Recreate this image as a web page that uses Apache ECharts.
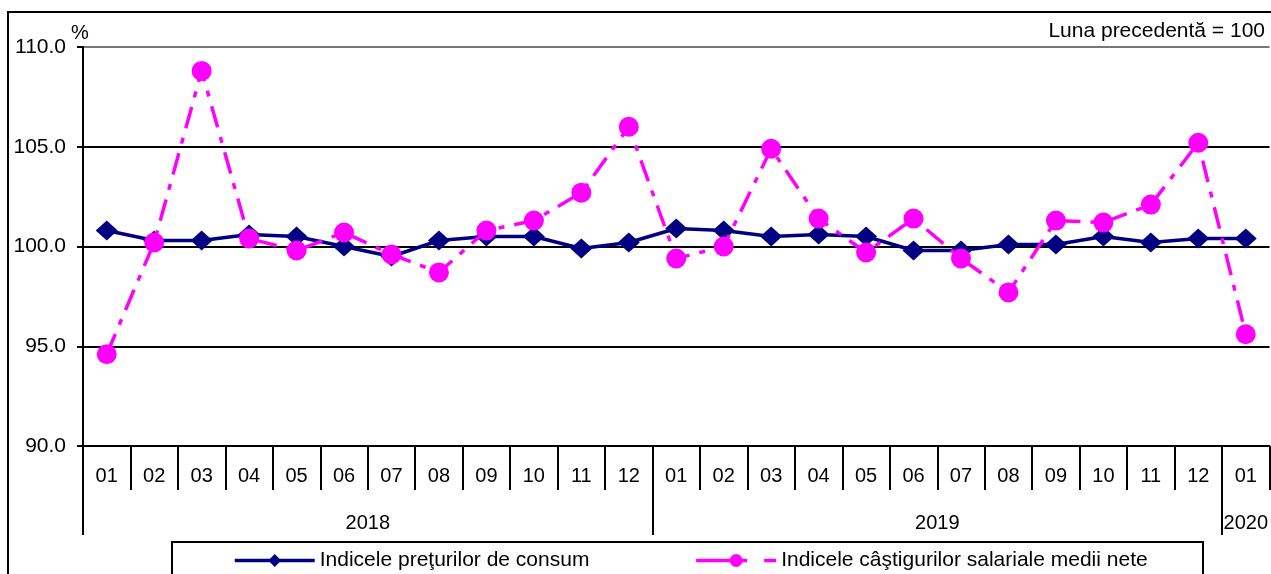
<!DOCTYPE html>
<html>
<head>
<meta charset="utf-8">
<script src="https://cdn.jsdelivr.net/npm/echarts@6/dist/echarts.min.js"></script>
<style>
  html, body { margin: 0; padding: 0; background: #fff; }
  #main { width: 1271px; height: 574px; }
</style>
</head>
<body>
<div id="main"></div>
<script>
// month labels on the first axis row
const months = ['01','02','03','04','05','06','07','08','09','10','11','12',
                '01','02','03','04','05','06','07','08','09','10','11','12','01'];
// year row: label and its position (in category units from the left edge)
const years = ['2018', '2019', '2020'];
const yearPos = [6, 18, 24.5];
const yearBreaks = [0, 12, 24];

// Indicele preţurilor de consum
const cpi = [100.8, 100.3, 100.3, 100.6, 100.5, 100.0, 99.5, 100.3, 100.5, 100.5, 99.9, 100.2,
             100.9, 100.8, 100.5, 100.6, 100.5, 99.8, 99.8, 100.1, 100.1, 100.5, 100.2, 100.4,
             100.4];
// Indicele câştigurilor salariale medii nete
const wages = [94.6, 100.2, 108.8, 100.4, 99.8, 100.7, 99.6, 98.7, 100.8, 101.3, 102.7, 106.0,
               99.4, 100.0, 104.9, 101.4, 99.7, 101.4, 99.4, 97.7, 101.3, 101.2, 102.1, 105.2,
               95.6];

const font = '"Liberation Sans", Arial, sans-serif';
const monthTicks = months.map((m, i) => i).concat([25]);
const chart = echarts.init(document.getElementById('main'));

chart.setOption({
  animation: false,
  textStyle: { fontFamily: font, color: '#000' },
  grid: { left: 83, top: 47, right: -2, bottom: 128 },
  xAxis: [
    {
      type: 'category',
      data: months,
      boundaryGap: true,
      axisLine: { lineStyle: { color: '#000', width: 2 } },
      axisTick: { show: false },
      axisLabel: { interval: 0, fontSize: 20, color: '#000', margin: 20, fontFamily: font },
      splitLine: { show: false }
    },
    {
      // helper axis: year dividers and year labels
      type: 'value',
      position: 'bottom',
      min: 0,
      max: 25,
      axisLine: { show: false },
      axisTick: { show: true, customValues: yearBreaks, length: 89, lineStyle: { color: '#000', width: 2 } },
      axisLabel: {
        customValues: yearPos,
        fontSize: 20, color: '#000', margin: 67, fontFamily: font,
        formatter: v => years[yearPos.indexOf(v)] || ''
      },
      splitLine: { show: false }
    },
    {
      // helper axis: month dividers
      type: 'value',
      position: 'bottom',
      min: 0,
      max: 25,
      axisLine: { show: false },
      axisTick: { show: true, customValues: monthTicks, length: 44, lineStyle: { color: '#000', width: 2 } },
      axisLabel: { show: false },
      splitLine: { show: false }
    }
  ],
  yAxis: {
    type: 'value',
    min: 90,
    max: 110,
    interval: 5,
    axisLine: { show: true, lineStyle: { color: '#000', width: 2 } },
    axisTick: { show: true, length: 6, lineStyle: { color: '#000', width: 2 } },
    axisLabel: { fontSize: 21, color: '#000', margin: 17, fontFamily: font, formatter: v => v.toFixed(1) },
    splitLine: { lineStyle: { color: ['#000', '#000', '#000', '#000', '#777'], width: 2 } }
  },
  legend: {
    left: 228,
    top: 545,
    itemWidth: 80,
    itemHeight: 16,
    itemGap: 105,
    itemTextGap: 5,
    textStyle: { fontSize: 21, color: '#000', fontFamily: font },
    data: [
      { name: 'Indicele preţurilor de consum', lineStyle: { width: 3.5 } },
      { name: 'Indicele câştigurilor salariale medii nete', lineStyle: { width: 3.5, type: [51, 17, 12, 20] } }
    ]
  },
  series: [
    {
      name: 'Indicele preţurilor de consum',
      type: 'line',
      data: cpi,
      symbol: 'diamond',
      symbolSize: [22, 20],
      itemStyle: { color: '#000080' },
      lineStyle: { color: '#000080', width: 3.5 },
      z: 3
    },
    {
      name: 'Indicele câştigurilor salariale medii nete',
      type: 'line',
      data: wages,
      symbol: 'circle',
      symbolSize: 20,
      itemStyle: { color: '#ff00ff' },
      lineStyle: { color: '#ff00ff', width: 3.5, type: [22, 10, 6, 10], cap: 'butt' },
      z: 4
    }
  ],
  graphic: [
    {
      type: 'polyline',
      shape: { points: [[8, 580], [8, 12], [1280, 12]] },
      style: { stroke: '#000', lineWidth: 2, fill: null },
      silent: true
    },
    {
      type: 'rect',
      shape: { x: 172, y: 542, width: 1031, height: 60 },
      style: { stroke: '#000', lineWidth: 2, fill: null },
      silent: true
    },
    {
      // unit label above the value axis
      type: 'text',
      x: 80,
      y: 33,
      style: { text: '%', fontSize: 20, fill: '#000', fontFamily: font, align: 'center', verticalAlign: 'middle' }
    },
    {
      type: 'text',
      right: 6,
      top: 21,
      style: { text: 'Luna precedentă = 100', fontSize: 21, fill: '#000', fontFamily: font }
    }
  ]
});
</script>
</body>
</html>
